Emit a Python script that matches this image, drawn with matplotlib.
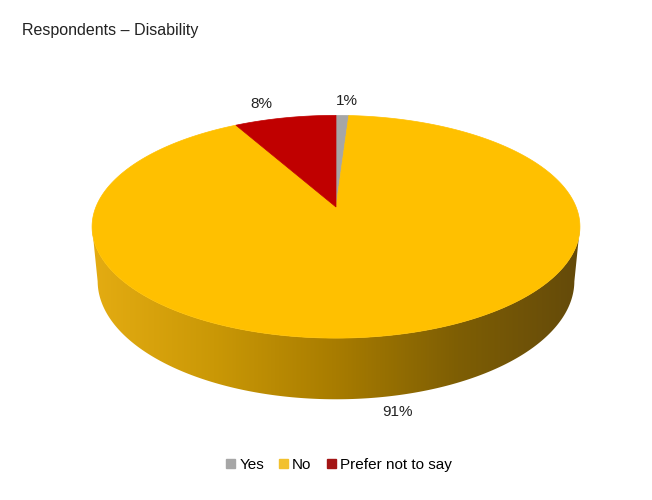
import numpy as np
import matplotlib.pyplot as plt
from matplotlib.patches import Polygon
from matplotlib.colors import LinearSegmentedColormap

# data
labels = ['Yes', 'No', 'Prefer not to say']
values = [1, 91, 8]
colors = ['#A6A6A6', '#FFC000', '#C00000']
legend_colors = ['#A6A6A6', '#F2C12E', '#A31515']
title = 'Respondents \u2013 Disability'

plt.rcParams['font.family'] = ['Liberation Sans', 'DejaVu Sans']

# simple perspective camera for a tilted disc
elev = np.radians(26.7)
dist = 5.04
height = 0.255
ce, se = np.cos(elev), np.sin(elev)
cx, cy, scale = 336, 207, 1210


def project(theta, z=0.0):
    X = np.cos(theta)
    Y = np.sin(theta)
    depth = Y * ce - z * se + dist
    u = X / depth
    v = (Y * se + z * ce) / depth
    return cx + u * scale, cy - v * scale


fig = plt.figure(figsize=(6.52, 5.0), dpi=100)
ax = fig.add_axes([0, 0, 1, 1])
ax.set_xlim(0, 652)
ax.set_ylim(500, 0)
ax.axis('off')

# side of the pie (front half only is visible)
t_left = np.pi + np.arcsin(ce / dist)
t_right = 2 * np.pi - np.arcsin(ce / dist)
ts = np.linspace(t_left, t_right, 300)
xt, yt = project(ts)
xb, yb = project(ts[::-1], -height)
side = Polygon(np.column_stack([np.r_[xt, xb], np.r_[yt, yb]]), closed=True,
               facecolor='none', edgecolor='none')
ax.add_patch(side)
side_cmap = LinearSegmentedColormap.from_list(
    'side', [(0, '#E4AC12'), (0.25, '#CA9806'), (0.5, '#A87C00'),
             (0.75, '#7E5E04'), (1, '#644A0A')])
grad = np.linspace(0, 1, 256).reshape(1, -1)
img = ax.imshow(grad, cmap=side_cmap, aspect='auto',
                extent=[xt.min(), xt.max(), yb.max() + 2, yt.min() - 2],
                zorder=1)
img.set_clip_path(side)

# top face wedges, starting at 12 o'clock going clockwise
start = np.pi / 2
for lab, val, col in zip(labels, values, colors):
    sweep = val / sum(values) * 2 * np.pi
    th = np.linspace(start, start - sweep, max(int(val * 4), 10))
    px, py = project(th)
    poly = Polygon(np.column_stack([np.r_[cx, px], np.r_[cy, py]]),
                   closed=True, facecolor=col, edgecolor=col, lw=0.5, zorder=2)
    ax.add_patch(poly)
    mid = start - sweep / 2
    if np.sin(mid) > 0:
        lx, ly = project(mid)
        ax.text(lx + 100 * np.cos(mid) + 1, ly - 14, f'{val}%', ha='center',
                va='center', fontsize=11, color='#222222')
    else:
        lx, ly = project(mid, -height)
        ax.text(lx, ly + 17, f'{val}%', ha='center', va='center',
                fontsize=11, color='#222222')
    start -= sweep

ax.text(22, 30, title, fontsize=11.5, color='#222222', va='center')

handles = [plt.Rectangle((0, 0), 1, 1, color=c) for c in legend_colors]
fig.legend(handles, labels, loc='center', bbox_to_anchor=(339 / 652, 1 - 465 / 500),
           ncol=3, frameon=False, fontsize=11, handlelength=0.6,
           handleheight=0.6, handletextpad=0.25, columnspacing=1.0)

fig.savefig('out.png', dpi=100)
